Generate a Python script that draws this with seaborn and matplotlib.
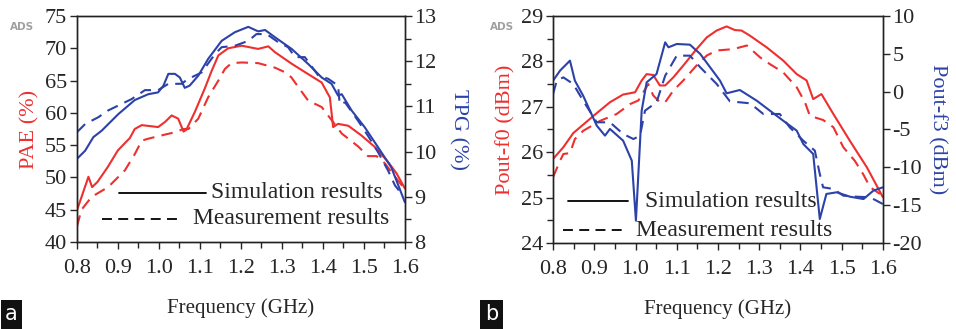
import numpy as np
import pandas as pd
import matplotlib.pyplot as plt
import seaborn as sns

# ---- data ----
# panel a: PAE (left axis) and TPG (right axis)
pae_sim_f = [0.8, 0.828, 0.837, 0.85, 0.875, 0.9, 0.929, 0.941, 0.958, 0.998, 1.015, 1.031,
             1.047, 1.06, 1.067, 1.088, 1.112, 1.128, 1.145, 1.169, 1.202, 1.218, 1.242,
             1.267, 1.283, 1.324, 1.364, 1.397, 1.417, 1.425, 1.437, 1.462, 1.494, 1.527,
             1.559, 1.58, 1.6]
pae_sim = [44.9, 50.1, 48.5, 49.3, 51.6, 54.2, 56.1, 57.5, 58.1, 57.8, 58.6, 59.6,
           59.1, 57.1, 57.4, 60.2, 63.8, 66.4, 68.9, 70.0, 70.4, 70.2, 69.9,
           70.3, 69.4, 67.6, 66.0, 64.7, 62.4, 57.8, 58.3, 58.0, 56.5, 54.7,
           52.4, 50.6, 48.3]

pae_meas_f = [0.8, 0.811, 0.836, 0.876, 0.917, 0.941, 0.958, 0.974, 1.006, 1.039, 1.06,
              1.072, 1.096, 1.12, 1.145, 1.161, 1.177, 1.202, 1.242, 1.283, 1.307, 1.323,
              1.34, 1.364, 1.397, 1.421, 1.446, 1.486, 1.51, 1.531, 1.551, 1.576, 1.596]
pae_meas = [42.4, 45.0, 47.0, 48.5, 51.1, 53.6, 55.7, 56.0, 56.5, 57.0, 57.5,
            57.5, 59.1, 62.4, 65.0, 66.8, 67.7, 67.8, 67.7, 67.0, 66.3, 65.5,
            64.0, 61.9, 60.9, 58.9, 56.8, 54.8, 53.3, 53.3, 52.2, 50.1, 48.5]

tpg_sim_f = [0.8, 0.82, 0.84, 0.86, 0.901, 0.941, 0.974, 0.998, 1.011, 1.023, 1.039, 1.051,
             1.063, 1.075, 1.096, 1.12, 1.153, 1.185, 1.218, 1.242, 1.259, 1.283, 1.324,
             1.364, 1.397, 1.421, 1.437, 1.446, 1.47, 1.502, 1.535, 1.567, 1.6]
tpg_sim = [9.84, 10.02, 10.32, 10.46, 10.83, 11.14, 11.27, 11.31, 11.46, 11.72, 11.72, 11.64,
           11.41, 11.46, 11.68, 12.05, 12.45, 12.64, 12.76, 12.66, 12.69, 12.53, 12.27,
           11.94, 11.64, 11.5, 11.24, 11.27, 10.91, 10.54, 10.09, 9.65, 8.88]

tpg_meas_f = [0.8, 0.82, 0.852, 0.876, 0.901, 0.933, 0.966, 0.998, 1.023, 1.055, 1.072,
              1.104, 1.137, 1.153, 1.185, 1.218, 1.238, 1.263, 1.291, 1.315, 1.332, 1.356,
              1.389, 1.413, 1.437, 1.441, 1.454, 1.486, 1.51, 1.535, 1.559, 1.576, 1.596]
tpg_meas = [10.43, 10.61, 10.76, 10.91, 11.02, 11.16, 11.36, 11.36, 11.5, 11.5, 11.61,
            11.75, 12.16, 12.31, 12.34, 12.45, 12.6, 12.6, 12.42, 12.31, 12.09, 12.09,
            11.68, 11.61, 11.46, 11.05, 11.09, 10.68, 10.35, 9.98, 9.58, 9.25, 9.02]

# panel b: Pout-f0 (left axis) and Pout-f3 (right axis)
f0_sim_f = [0.8, 0.825, 0.849, 0.898, 0.938, 0.97, 0.999, 1.015, 1.027, 1.043, 1.059,
            1.072, 1.092, 1.116, 1.148, 1.173, 1.197, 1.221, 1.241, 1.257, 1.277, 1.318,
            1.358, 1.391, 1.415, 1.431, 1.451, 1.48, 1.52, 1.561, 1.6]
f0_sim = [25.85, 26.11, 26.42, 26.8, 27.1, 27.27, 27.32, 27.58, 27.72, 27.7, 27.47,
          27.47, 27.65, 27.91, 28.27, 28.53, 28.68, 28.77, 28.69, 28.68, 28.57, 28.31,
          28.02, 27.72, 27.58, 27.17, 27.28, 26.84, 26.25, 25.67, 25.01]

f0_meas_f = [0.8, 0.817, 0.825, 0.841, 0.853, 0.873, 0.914, 0.954, 0.987, 1.007, 1.019,
             1.031, 1.043, 1.059, 1.072, 1.092, 1.116, 1.148, 1.173, 1.197, 1.237, 1.27,
             1.302, 1.326, 1.358, 1.391, 1.411, 1.423, 1.455, 1.48, 1.504, 1.532, 1.552,
             1.569, 1.593]
f0_meas = [25.45, 25.81, 25.96, 25.98, 26.29, 26.47, 26.69, 26.84, 27.06, 27.14, 27.32,
           27.5, 27.25, 27.1, 27.1, 27.36, 27.58, 27.91, 28.13, 28.24, 28.27, 28.35,
           28.09, 27.94, 27.76, 27.43, 27.1, 26.8, 26.71, 26.55, 26.11, 25.81, 25.52,
           25.23, 25.08]

f3_sim_f = [0.8, 0.817, 0.841, 0.853, 0.873, 0.906, 0.926, 0.938, 0.97, 0.991, 1.001,
            1.015, 1.027, 1.051, 1.072, 1.08, 1.1, 1.132, 1.157, 1.181, 1.205, 1.221,
            1.253, 1.294, 1.326, 1.358, 1.391, 1.407, 1.431, 1.447, 1.463, 1.488, 1.52,
            1.553, 1.577, 1.6]
f3_sim = [1.45, 2.78, 4.1, 1.45, -0.53, -4.49, -5.81, -4.93, -6.48, -9.12, -17.05,
          -2.51, 1.23, 2.33, 6.52, 5.86, 6.3, 6.21, 4.98, 3.22, 1.45, -0.22,
          0.22, -1.19, -2.51, -3.83, -5.15, -6.92, -8.24, -16.83, -13.52, -13.3, -13.88,
          -14.19, -13.08, -12.64]

f3_meas_f = [0.8, 0.809, 0.825, 0.849, 0.873, 0.906, 0.938, 0.97, 0.995, 1.011, 1.023,
             1.051, 1.072, 1.1, 1.132, 1.157, 1.197, 1.229, 1.278, 1.31, 1.35, 1.374,
             1.407, 1.435, 1.447, 1.455, 1.48, 1.504, 1.536, 1.569, 1.6]
f3_meas = [-0.31, 1.45, 1.89, 1.01, -1.19, -4.05, -4.05, -5.59, -6.26, -5.81, -2.51,
           -1.41, 2.11, 4.76, 4.76, 3.22, 1.01, -1.28, -1.54, -2.95, -2.95, -4.71,
           -6.48, -7.8, -10.88, -12.64, -12.86, -13.74, -13.88, -13.96, -14.85]

RED = "#ee2f2f"
BLUE = "#2c42a8"
FS = 16

sns.set_style("ticks")
plt.rcParams["font.family"] = ["Liberation Serif", "DejaVu Serif"]
plt.rcParams["xtick.direction"] = "out"
plt.rcParams["ytick.direction"] = "out"

fig = plt.figure(figsize=(9.56, 3.29), dpi=100)
ax_a = fig.add_axes([0.0805, 0.2644, 0.343, 0.687])
ax_b = fig.add_axes([0.5785, 0.2614, 0.345, 0.690])


def draw(ax, x, y, color, dashed):
    df = pd.DataFrame({"f": x, "v": y})
    sns.lineplot(data=df, x="f", y="v", ax=ax, color=color, lw=1.5, sort=False,
                 estimator=None, linestyle=(0, (5.5, 3.5)) if dashed else "-")


def style_axes(ax, ax2):
    ax.set_xlim(0.8, 1.6)
    ax.set_xticks(np.arange(0.8, 1.61, 0.1))
    ax.set_xticklabels([f"{t:.1f}" for t in np.arange(0.8, 1.61, 0.1)])
    ax.set_xticks(np.arange(0.85, 1.6, 0.1), minor=True)
    ax.set_xlabel("Frequency (GHz)", fontsize=15, labelpad=15)
    for a in (ax, ax2):
        a.tick_params(which="major", length=5, width=1, labelsize=FS, pad=2)
        a.tick_params(which="minor", length=4, width=1)
        for s in a.spines.values():
            s.set_linewidth(1.0)
            s.set_color("#222222")
    ax.tick_params(axis="x", which="both", top=False, pad=7)


# ---- panel a ----
ax2_a = ax_a.twinx()
draw(ax_a, pae_sim_f, pae_sim, RED, False)
draw(ax_a, pae_meas_f, pae_meas, RED, True)
draw(ax2_a, tpg_sim_f, tpg_sim, BLUE, False)
draw(ax2_a, tpg_meas_f, tpg_meas, BLUE, True)
ax_a.set_ylim(40, 75)
ax_a.set_yticks(np.arange(40, 76, 5))
ax2_a.set_ylim(8, 13)
ax2_a.set_yticks(np.arange(8, 14, 1))
ax2_a.set_yticks(np.arange(8.5, 13, 1), minor=True)
ax_a.set_ylabel("PAE (%)", color=RED, fontsize=FS, labelpad=4)
ax2_a.set_ylabel("TPG (%)", color=BLUE, fontsize=FS, rotation=270, labelpad=22)
style_axes(ax_a, ax2_a)

# ---- panel b ----
ax2_b = ax_b.twinx()
draw(ax_b, f0_sim_f, f0_sim, RED, False)
draw(ax_b, f0_meas_f, f0_meas, RED, True)
draw(ax2_b, f3_sim_f, f3_sim, BLUE, False)
draw(ax2_b, f3_meas_f, f3_meas, BLUE, True)
ax_b.set_ylim(24, 29)
ax_b.set_yticks(np.arange(24, 30, 1))
ax_b.set_yticks(np.arange(24.5, 29, 1), minor=True)
ax2_b.set_ylim(-20, 10)
ax2_b.set_yticks(np.arange(-20, 11, 5))
ax2_b.set_yticklabels(["-20", "-15", "-10", "-5", "0", "5", "10"])
ax_b.set_ylabel("Pout-f0 (dBm)", color=RED, fontsize=FS, labelpad=4)
ax2_b.set_ylabel("Pout-f3 (dBm)", color=BLUE, fontsize=FS, rotation=270, labelpad=18)
style_axes(ax_b, ax2_b)

# ---- hand-made legends ----
def legend(ax, solid, dashed):
    (x0, x1, y, tx), (dx0, dx1, dy, dtx) = solid, dashed
    ax.plot([x0, x1], [y, y], color="black", lw=1.3, transform=ax.transAxes)
    ax.text(tx, y, "Simulation results", transform=ax.transAxes, fontsize=17, va="center")
    ax.plot([dx0, dx1], [dy, dy], color="black", lw=1.3, ls=(0, (5.5, 3.5)),
            transform=ax.transAxes)
    ax.text(dtx, dy, "Measurement results", transform=ax.transAxes, fontsize=17, va="center")


legend(ax2_a, (0.128, 0.393, 0.217, 0.41), (0.076, 0.323, 0.102, 0.355))
legend(ax2_b, (0.045, 0.227, 0.185, 0.28), (0.03, 0.218, 0.057, 0.25))

# ADS marks and panel letters
for xpos in (0.01, 0.512):
    fig.text(xpos, 0.918, "ADS", fontsize=7.5, color="#a0a0a0", weight="bold",
             family="DejaVu Sans", va="center")
for xpos, lab in ((0.0, "a"), (0.502, "b")):
    fig.text(xpos + 0.012, 0.045, lab, fontsize=15, color="white", family="DejaVu Sans",
             ha="center", va="center",
             bbox=dict(boxstyle="square,pad=0.22", fc="#111111", ec="none"))

fig.savefig("out.png", dpi=100)
